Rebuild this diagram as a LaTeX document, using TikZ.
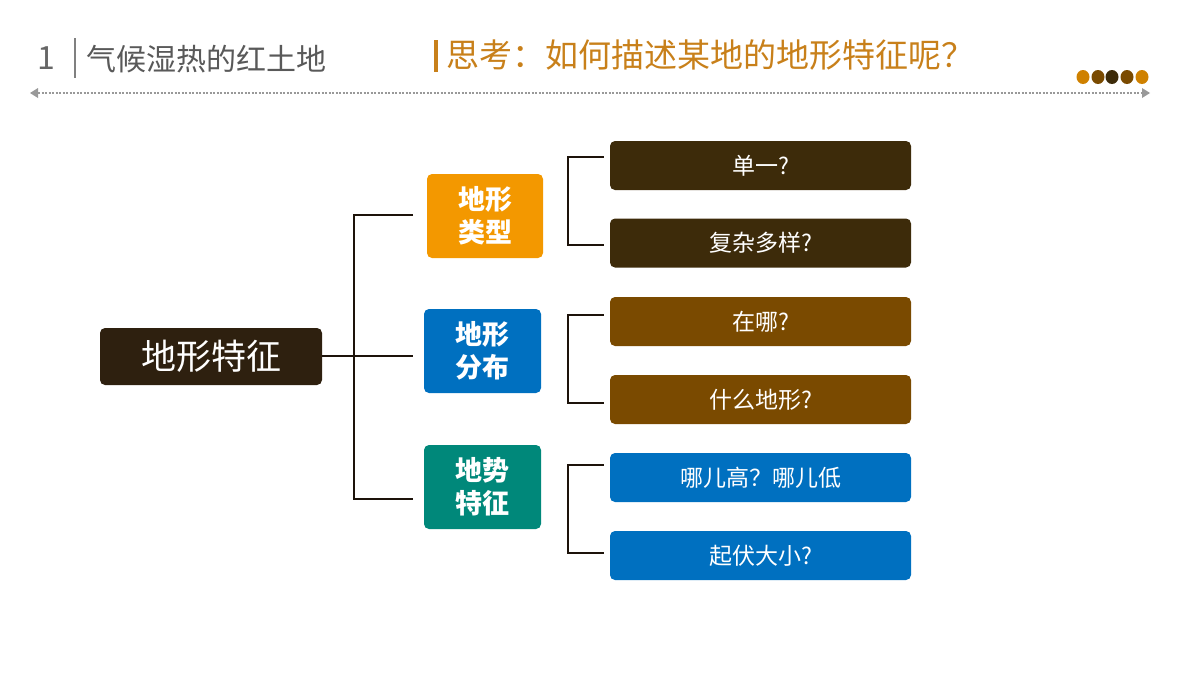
\documentclass[tikz,border=0pt]{standalone}
\usepackage{fontspec}
\setmainfont{Noto Sans CJK SC}
\newfontfamily\cjk{Noto Sans CJK SC}
\begin{document}
\begin{tikzpicture}[x=1pt,y=-1pt,
  box/.style={rounded corners=5pt,text=white,inner sep=0pt,font=\cjk},
  mid/.style={box,font=\cjk\bfseries\fontsize{27}{33}\selectfont,align=center},
  rb/.style={box,minimum width=301pt,minimum height=49pt,font=\cjk\fontsize{23}{24}\selectfont},
  ln/.style={line width=1.8pt,draw=black!85!brown}]
\useasboundingbox (0,0) rectangle (1200,673);
\definecolor{dk}{HTML}{3D2B0A}\definecolor{br}{HTML}{7A4A00}
\definecolor{bl}{HTML}{0070C0}\definecolor{og}{HTML}{F39800}
\definecolor{tl}{HTML}{00887A}\definecolor{tt}{HTML}{C8801A}
\definecolor{mn}{HTML}{2E200F}
% header
\node[anchor=west,text=gray!80!black,font=\cjk\fontsize{32}{32}\selectfont] (n1) at (34,58) {1};
\draw[gray,line width=1.5pt] (75,38) -- (75,78);
\node[anchor=west,text=gray!70!black,font=\cjk\fontsize{30}{30}\selectfont,inner sep=0pt] (h1) at (86,59) {气候湿热的红土地};
\fill[tt] (434,40) rectangle (438,72);
\node[anchor=west,text=tt,font=\cjk\fontsize{33}{33}\selectfont,inner sep=0pt] (h2) at (446,55) {思考：如何描述某地的地形特征呢？};
\draw[gray!80,line width=2.5pt,dash pattern=on 2pt off 1.5pt] (38,93) -- (1142,93);
\fill[gray!80] (30,93) -- (38,88) -- (38,98) -- cycle;
\fill[gray!80] (1150,93) -- (1142,88) -- (1142,98) -- cycle;
\foreach \x/\c in {1083/og!85!black,1098/br,1112/dk,1127/br,1142/og!85!black}
  \fill[\c] (\x,77) ellipse (6.5pt and 7pt);
% nodes
\node[box,fill=mn,minimum width=222pt,minimum height=57pt,font=\cjk\fontsize{35}{36}\selectfont] (main) at (211,356.5) {地形特征};
\node[mid,fill=og,minimum width=116pt,minimum height=84pt] (m1) at (485,216) {地形\\类型};
\node[mid,fill=bl,minimum width=117pt,minimum height=84pt] (m2) at (482.5,351) {地形\\分布};
\node[mid,fill=tl,minimum width=117pt,minimum height=84pt] (m3) at (482.5,487) {地势\\特征};
\node[rb,fill=dk] (r1) at (760.5,165.5) {单一?};
\node[rb,fill=dk] (r2) at (760.5,243) {复杂多样?};
\node[rb,fill=br] (r3) at (760.5,321.5) {在哪?};
\node[rb,fill=br] (r4) at (760.5,399.5) {什么地形?};
\node[rb,fill=bl] (r5) at (760.5,477.5) {哪儿高？哪儿低};
\node[rb,fill=bl] (r6) at (760.5,555.5) {起伏大小?};
% connectors
\coordinate (b0) at (413,356);
\draw[ln] (main.east|-b0) -- (b0);
\draw[ln] (413,215) -- (354,215) -- (354,499) -- (413,499);
\draw[ln] ([xshift=-6pt]r1.west|-0,157) -- (568,157) -- (568,245) -- ([xshift=-6pt]r2.west|-0,245);
\draw[ln] ([xshift=-6pt]r3.west|-0,315) -- (568,315) -- (568,403) -- ([xshift=-6pt]r4.west|-0,403);
\draw[ln] ([xshift=-6pt]r5.west|-0,465) -- (568,465) -- (568,553) -- ([xshift=-6pt]r6.west|-0,553);
\end{tikzpicture}
\end{document}
